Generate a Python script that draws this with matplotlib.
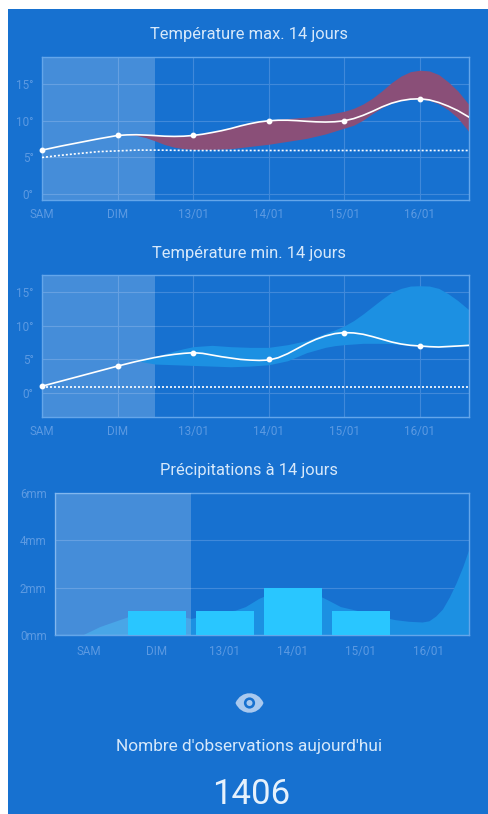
import matplotlib
matplotlib.use("Agg")
import matplotlib.pyplot as plt
from matplotlib.patches import Circle, PathPatch, Rectangle
from matplotlib.path import Path

plt.rcParams["font.family"] = ["Roboto", "DejaVu Sans"]

W, H = 488, 814
BG = "#1771d0"
GRID = "#4089da"
FRAME = "#64a6ea"
TICK = "#5c9ae2"
TITLE = "#d6e8fa"
MAROON = "#8a4f78"
LIGHT = "#1c90e2"
BAR = "#29c6ff"

day_labels = ["SAM", "DIM", "13/01", "14/01", "15/01", "16/01"]
day_pos = [0, 1, 2, 3, 4, 5]

max_x = [0, 0.25, 0.5, 0.75, 1, 1.125, 1.25, 1.375, 1.5, 1.625, 1.75, 1.875, 2, 2.125, 2.25, 2.375, 2.5, 2.625, 2.75, 2.875, 3, 3.125, 3.25, 3.375, 3.5, 3.625, 3.75, 3.875, 4, 4.125, 4.25, 4.375, 4.5, 4.625, 4.75, 4.875, 5, 5.125, 5.25, 5.375, 5.5, 5.65]
max_line = [6, 6.55, 7.05, 7.55, 8, 8.08, 8.1, 8.05, 7.98, 7.9, 7.87, 7.9, 8, 8.17, 8.4, 8.65, 8.95, 9.3, 9.6, 9.85, 10, 10.08, 10.08, 10.02, 9.93, 9.86, 9.83, 9.87, 10, 10.3, 10.75, 11.3, 11.9, 12.4, 12.75, 12.95, 13, 12.85, 12.5, 12, 11.4, 10.5]
max_normal_x = [0, 0.25, 0.5, 0.75, 1, 1.25, 1.5, 2, 5.65]
max_normal = [5, 5.3, 5.55, 5.8, 5.9, 6, 6, 5.95, 5.95]
max_band_x = [1.1, 1.25, 1.375, 1.5, 1.625, 1.75, 1.875, 2, 2.25, 2.5, 2.75, 3, 3.25, 3.5, 3.75, 4, 4.125, 4.25, 4.375, 4.5, 4.625, 4.75, 4.875, 5, 5.125, 5.25, 5.375, 5.5, 5.65]
max_upper = [8.1, 8.1, 8.05, 8, 7.93, 7.9, 7.93, 8, 8.5, 9.1, 9.75, 10.1, 10.3, 10.5, 10.8, 11.3, 11.7, 12.3, 13.1, 14.1, 15.2, 16.1, 16.7, 16.9, 16.8, 16.3, 15.3, 14.1, 12.2]
max_lower = [8.1, 8, 7.7, 7.25, 6.75, 6.4, 6.2, 6.1, 6.1, 6.2, 6.5, 6.8, 7.2, 7.6, 8.2, 9, 9.4, 10.1, 11, 11.8, 12.4, 12.75, 12.95, 13, 12.8, 12.3, 11.5, 10.4, 8.5]
max_pts_x = [0, 1, 2, 3, 4, 5]
max_pts_y = [6, 8, 8, 10, 10, 13]

min_x = [0, 0.5, 1, 1.25, 1.5, 1.625, 1.75, 1.875, 2, 2.125, 2.25, 2.375, 2.5, 2.625, 2.75, 2.875, 3, 3.125, 3.25, 3.375, 3.5, 3.625, 3.75, 3.875, 4, 4.125, 4.25, 4.375, 4.5, 4.625, 4.75, 4.875, 5, 5.125, 5.25, 5.5, 5.65]
min_line = [1, 2.5, 4, 4.7, 5.3, 5.55, 5.75, 5.9, 6, 5.9, 5.65, 5.4, 5.2, 5, 4.9, 4.85, 4.9, 5.25, 5.85, 6.6, 7.35, 8, 8.5, 8.85, 9, 8.95, 8.75, 8.4, 8, 7.6, 7.3, 7.1, 7, 6.9, 6.85, 7, 7.1]
min_normal_x = [0, 5.65]
min_normal = [0.9, 0.9]
min_band_x = [1.2, 1.5, 1.625, 1.75, 1.875, 2, 2.25, 2.5, 2.75, 3, 3.25, 3.5, 3.75, 3.875, 4, 4.125, 4.25, 4.375, 4.5, 4.625, 4.75, 4.875, 5, 5.125, 5.25, 5.375, 5.5, 5.65]
min_upper = [4.9, 5.4, 5.85, 6.25, 6.6, 6.9, 7.1, 6.9, 6.8, 6.8, 7.2, 7.8, 8.9, 9.4, 10, 10.8, 11.8, 12.9, 14, 15, 15.6, 15.95, 16, 15.95, 15.6, 14.8, 13.8, 12.4]
min_lower = [4.9, 4.3, 4.25, 4.2, 4.15, 4.1, 4, 3.9, 4, 4.2, 4.8, 6, 6.8, 7.05, 7.2, 7.3, 7.4, 7.4, 7.4, 7.35, 7.2, 7.1, 7, 6.9, 6.8, 6.85, 6.9, 7]
min_pts_x = [0, 1, 2, 3, 4, 5]
min_pts_y = [1, 4, 6, 5, 9, 7]

rain_x = [-0.5, -0.1, 0.16, 0.58, 1, 1.5, 2, 2.15, 2.3, 2.5, 2.75, 3, 3.25, 3.5, 3.7, 4, 4.25, 4.5, 4.7, 4.9, 5, 5.1, 5.2, 5.3, 5.4, 5.5, 5.59]
rain_area = [0, 0, 0.36, 0.78, 1, 0.7, 1, 1.05, 1.2, 1.55, 1.85, 2, 1.85, 1.5, 1.2, 1, 0.8, 0.65, 0.58, 0.55, 0.6, 0.8, 1.1, 1.6, 2.2, 2.9, 3.65]
rain_bar_x = [1, 2, 3, 4]
rain_bar_y = [1, 1, 2, 1]
rain_ticks = [0, 2, 4, 6]
rain_tick_labels = ["0mm", "2mm", "4mm", "6mm"]


def px_axes(fig, left, top, right, bottom):
    return fig.add_axes([left / W, 1 - bottom / H, (right - left) / W, (bottom - top) / H])


def style_axes(ax, xlim, ylim):
    ax.set_facecolor("none")
    ax.set_xlim(*xlim)
    ax.set_ylim(*ylim)
    for spine in ax.spines.values():
        spine.set_color(FRAME)
        spine.set_linewidth(1.0)
    ax.tick_params(length=0, labelsize=8.4, labelcolor=TICK)
    ax.grid(True, color=GRID, linewidth=0.8)
    ax.set_axisbelow(True)


def temp_chart(ax, ylim):
    style_axes(ax, (0, 5.65), ylim)
    ax.set_xticks(day_pos, day_labels)
    ax.set_yticks([0, 5, 10, 15], ["0°", "5°", "10°", "15°"])
    ax.tick_params(axis="x", pad=6)
    ax.tick_params(axis="y", pad=6)
    ax.axvspan(0, 1.5, color="white", alpha=0.2, linewidth=0, zorder=1)


fig = plt.figure(figsize=(W / 100, H / 100), dpi=100, facecolor="white")

back = fig.add_axes([0, 0, 1, 1])
back.set_xlim(0, W)
back.set_ylim(H, 0)
back.axis("off")
back.add_patch(Rectangle((8, 9), 480, 805, color=BG, linewidth=0))

# eye icon
eye = Path(
    [(235.5, 703), (241, 690), (258, 690), (263.5, 703), (258, 716), (241, 716), (235.5, 703)],
    [Path.MOVETO, Path.CURVE4, Path.CURVE4, Path.CURVE4, Path.CURVE4, Path.CURVE4, Path.CURVE4],
)
back.add_patch(PathPatch(eye, facecolor="#a9c9ef", edgecolor="none"))
back.add_patch(Circle((249.5, 703), 5.6, color=BG, linewidth=0))
back.add_patch(Circle((249.5, 703), 3.0, color="#a9c9ef", linewidth=0))

back.text(249.5, 34.5, "Température max. 14 jours", color=TITLE, fontsize=11.9, ha="center", va="center")
back.text(249.5, 253.5, "Température min. 14 jours", color=TITLE, fontsize=11.9, ha="center", va="center")
back.text(249.5, 470.5, "Précipitations à 14 jours", color=TITLE, fontsize=11.9, ha="center", va="center")
back.text(249.5, 747, "Nombre d'observations aujourd'hui", color=TITLE, fontsize=12.4, ha="center", va="center")
back.text(251, 794, "1406", color="#e6f1fc", fontsize=25, ha="center", va="center")

# max temperature
ax1 = px_axes(fig, 42, 57, 469, 200)
temp_chart(ax1, (-0.8, 18.7))
ax1.fill_between(max_band_x, max_lower, max_upper, color=MAROON, linewidth=0, zorder=2)
ax1.plot(max_normal_x, max_normal, color="white", linewidth=1.2, linestyle=(0, (1.2, 1.2)), zorder=3)
ax1.plot(max_x, max_line, color="white", linewidth=1.2, zorder=4)
ax1.plot(max_pts_x, max_pts_y, "o", color="white", markersize=3.2, clip_on=False, zorder=5)

# min temperature
ax2 = px_axes(fig, 42, 275, 469, 417)
temp_chart(ax2, (-3.6, 17.6))
ax2.fill_between(min_band_x, min_lower, min_upper, color=LIGHT, linewidth=0, zorder=2)
ax2.plot(min_normal_x, min_normal, color="white", linewidth=1.2, linestyle=(0, (1.2, 1.2)), zorder=3)
ax2.plot(min_x, min_line, color="white", linewidth=1.2, zorder=4)
ax2.plot(min_pts_x, min_pts_y, "o", color="white", markersize=3.2, clip_on=False, zorder=5)

# precipitation
ax3 = px_axes(fig, 55, 493, 469, 635)
style_axes(ax3, (-0.5, 5.59), (0, 6))
ax3.grid(False, axis="x")
ax3.set_xticks(day_pos, day_labels)
ax3.set_yticks(rain_ticks, rain_tick_labels)
ax3.tick_params(axis="x", pad=7)
ax3.tick_params(axis="y", pad=6)
ax3.fill_between(rain_x, 0, rain_area, color=LIGHT, linewidth=0, zorder=2)
ax3.axvspan(-0.5, 1.5, color="white", alpha=0.2, linewidth=0, zorder=3)
ax3.bar(rain_bar_x, rain_bar_y, width=0.85, color=BAR, linewidth=0, zorder=4)

fig.savefig("out.png", dpi=100, facecolor="white")
